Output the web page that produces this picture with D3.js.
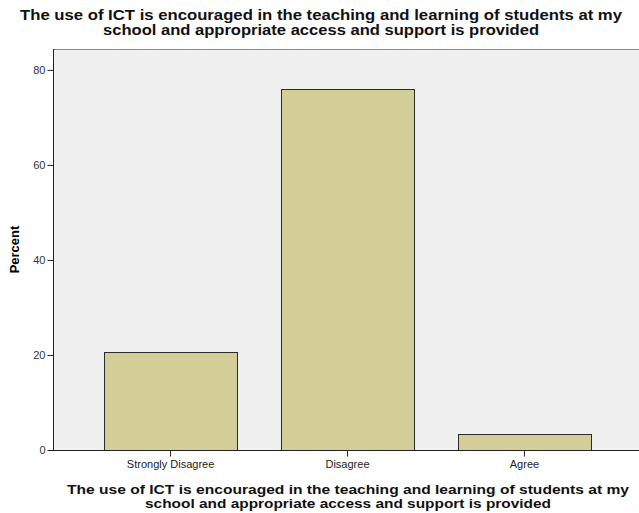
<!DOCTYPE html>
<html>
<head>
<meta charset="utf-8">
<script src="https://cdn.jsdelivr.net/npm/d3@7"></script>
<style>
  body { margin: 0; background: #fff; }
  svg { display: block; font-family: Arial, "Liberation Sans", sans-serif; }
</style>
</head>
<body>
<svg id="chart" width="639" height="513"></svg>
<script>
const categories = ["Strongly Disagree", "Disagree", "Agree"];
const percents = [20.7, 75.9, 3.4];
const yTicks = [0, 20, 40, 60, 80];
const titleLines = [
  "The use of ICT is encouraged in the teaching and learning of students at my",
  "school and appropriate access and support is provided"
];

const svg = d3.select("#chart");
const plotLeft = 53, plotTop = 49, plotRight = 639, plotBottom = 450;

const x = d3.scaleBand()
  .domain(categories)
  .range([56, plotRight])
  .paddingInner(0.249)
  .paddingOuter(0.272);

const y = d3.scaleLinear().domain([0, 84.4]).range([plotBottom, plotTop]);

// plot background
svg.append("rect")
  .attr("x", plotLeft).attr("y", plotTop)
  .attr("width", plotRight - plotLeft).attr("height", plotBottom - plotTop)
  .attr("fill", "#f0f0f0");
svg.append("line")
  .attr("x1", plotLeft).attr("x2", plotRight)
  .attr("y1", plotTop + 0.5).attr("y2", plotTop + 0.5)
  .attr("stroke", "#8c8c8c");

// bars
svg.selectAll("rect.bar")
  .data(categories)
  .enter()
  .append("rect")
  .attr("class", "bar")
  .attr("x", d => Math.round(x(d)) + 0.5)
  .attr("y", (d, i) => Math.round(y(percents[i])) + 0.5)
  .attr("width", Math.round(x.bandwidth()))
  .attr("height", (d, i) => y(0) - Math.round(y(percents[i])))
  .attr("fill", "#d3ce97")
  .attr("stroke", "#2b2b2b")
  .attr("stroke-width", 1);

// axes
const yAxis = svg.append("g")
  .attr("transform", `translate(${plotLeft + 0.5},0)`)
  .call(d3.axisLeft(y).tickValues(yTicks).tickSize(6).tickSizeOuter(0));
yAxis.select(".domain").attr("d", `M0,${plotTop}V${plotBottom}`).attr("stroke", "#222");
yAxis.selectAll(".tick line").attr("stroke", "#222");
yAxis.selectAll(".tick text").attr("font-size", 11).attr("fill", "#333").attr("x", -8);

const xAxis = svg.append("g")
  .attr("transform", `translate(0,${plotBottom + 0.5})`)
  .call(d3.axisBottom(x).tickSize(6).tickSizeOuter(0));
xAxis.select(".domain").attr("d", `M${plotLeft},0H${plotRight}`).attr("stroke", "#222");
xAxis.selectAll(".tick line").attr("stroke", "#222");
xAxis.selectAll(".tick text")
  .attr("font-size", 11)
  .attr("fill", "#222")
  .attr("y", 17.5)
  .attr("dy", null);

// y axis title
svg.append("text")
  .attr("transform", `translate(19,${(plotTop + plotBottom) / 2}) rotate(-90)`)
  .attr("text-anchor", "middle")
  .attr("font-size", 13)
  .attr("font-weight", "bold")
  .text("Percent");

// chart title
const titleWidths = [602, 436];
svg.append("g").selectAll("text")
  .data(titleLines)
  .enter()
  .append("text")
  .attr("x", 321)
  .attr("y", (d, i) => 20 + i * 15)
  .attr("text-anchor", "middle")
  .attr("font-size", 15)
  .attr("font-weight", "bold")
  .attr("textLength", (d, i) => titleWidths[i])
  .attr("lengthAdjust", "spacingAndGlyphs")
  .attr("fill", "#111")
  .text(d => d);

// x axis title
const xTitleWidths = [562, 406];
svg.append("g").selectAll("text")
  .data(titleLines)
  .enter()
  .append("text")
  .attr("x", 348)
  .attr("y", (d, i) => 494 + i * 13.5)
  .attr("text-anchor", "middle")
  .attr("font-size", 13.5)
  .attr("font-weight", "bold")
  .attr("textLength", (d, i) => xTitleWidths[i])
  .attr("lengthAdjust", "spacingAndGlyphs")
  .attr("fill", "#111")
  .text(d => d);
</script>
</body>
</html>
